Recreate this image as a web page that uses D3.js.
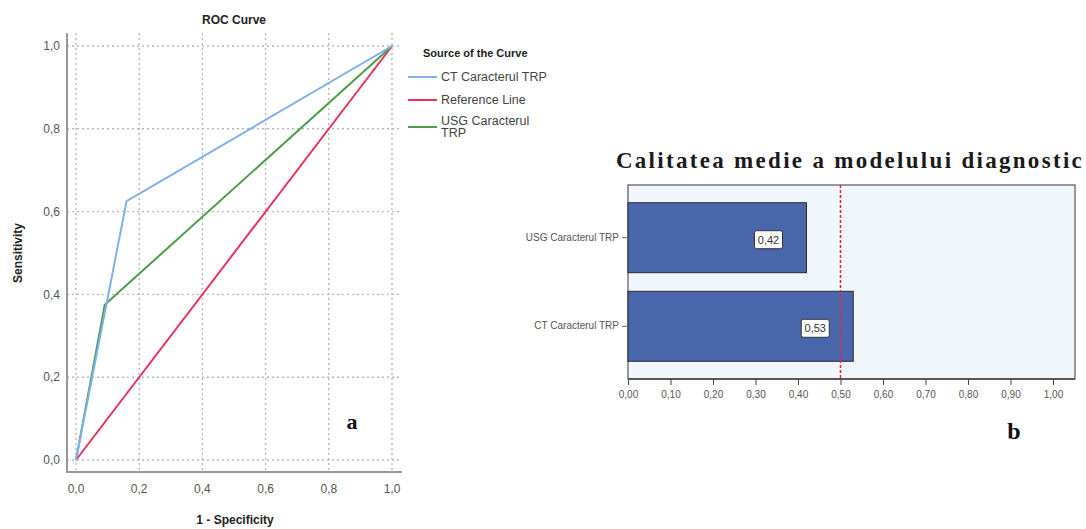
<!DOCTYPE html>
<html>
<head>
<meta charset="utf-8">
<script src="https://cdn.jsdelivr.net/npm/d3@7"></script>
<style>
  body { margin: 0; background: #fff; }
  svg { display: block; font-family: "Liberation Sans", Arial, sans-serif; }
</style>
</head>
<body>
<div id="chart"></div>
<script>
// ROC curves (1 - specificity, sensitivity)
const ctCurve = [[0, 0], [0.16, 0.625], [1, 1]];
const refLine = [[0, 0], [1, 1]];
const usgCurve = [[0, 0], [0.091, 0.375], [1, 1]];
const rocTicks = [0, 0.2, 0.4, 0.6, 0.8, 1.0];
const legendNames = [["CT Caracterul TRP"], ["Reference Line"], ["USG Caracterul", "TRP"]];

// mean diagnostic quality bars
const barCategories = ["USG Caracterul TRP", "CT Caracterul TRP"];
const barValues = [0.42, 0.53];
const barTicks = [0, 0.1, 0.2, 0.3, 0.4, 0.5, 0.6, 0.7, 0.8, 0.9, 1.0];
const refValue = 0.5;

const width = 1086, height = 529;
const comma = (d, n) => d.toFixed(n).replace('.', ',');

const svg = d3.select("#chart").append("svg")
  .attr("width", width)
  .attr("height", height);

// ---------- ROC panel ----------
const x = d3.scaleLinear().domain([0, 1]).range([76, 392]);
const y = d3.scaleLinear().domain([0, 1]).range([460, 46]);
const frame = {left: 67, right: 402, top: 33, bottom: 472};

const roc = svg.append("g");

roc.append("text")
  .attr("x", 234).attr("y", 24)
  .attr("text-anchor", "middle")
  .style("font-size", "12px").style("font-weight", "bold").style("fill", "#222")
  .text("ROC Curve");

// dotted grid
roc.selectAll(".vgrid").data(rocTicks).join("line")
  .attr("x1", d => x(d)).attr("x2", d => x(d))
  .attr("y1", frame.top).attr("y2", frame.bottom)
  .attr("stroke", "#b8b8b8").attr("stroke-width", 1.4).attr("stroke-dasharray", "2,3");
roc.selectAll(".hgrid").data(rocTicks).join("line")
  .attr("y1", d => y(d)).attr("y2", d => y(d))
  .attr("x1", frame.left).attr("x2", frame.right)
  .attr("stroke", "#b8b8b8").attr("stroke-width", 1.4).attr("stroke-dasharray", "2,3");

// axes lines
roc.append("path")
  .attr("d", `M${frame.left},${frame.top}V${frame.bottom}H${frame.right}`)
  .attr("fill", "none").attr("stroke", "#999").attr("stroke-width", 2);

roc.selectAll(".ytl").data(rocTicks).join("text")
  .attr("x", 60).attr("y", d => y(d)).attr("dy", "0.35em")
  .attr("text-anchor", "end")
  .style("font-size", "12px").style("fill", "#555")
  .text(d => comma(d, 1));
roc.selectAll(".xtl").data(rocTicks).join("text")
  .attr("x", d => x(d)).attr("y", 493)
  .attr("text-anchor", "middle")
  .style("font-size", "12px").style("fill", "#555")
  .text(d => comma(d, 1));

roc.append("text")
  .attr("x", 235).attr("y", 524)
  .attr("text-anchor", "middle")
  .style("font-size", "12px").style("font-weight", "bold").style("fill", "#222")
  .text("1 - Specificity");
roc.append("text")
  .attr("transform", "translate(22,253) rotate(-90)")
  .attr("text-anchor", "middle")
  .style("font-size", "12px").style("font-weight", "bold").style("fill", "#222")
  .text("Sensitivity");

const line = d3.line().x(d => x(d[0])).y(d => y(d[1]));
const rocColors = ["#7fb0ee", "#e8335c", "#4b9c4b"];
const curves = [ctCurve, refLine, usgCurve];
[1, 2, 0].forEach(i => {
  roc.append("path").datum(curves[i])
    .attr("d", line)
    .attr("fill", "none")
    .attr("stroke", rocColors[i])
    .attr("stroke-width", 2);
});

roc.append("text")
  .attr("x", 352).attr("y", 429)
  .attr("text-anchor", "middle")
  .style("font-family", "'Liberation Serif', serif")
  .style("font-size", "22px").style("font-weight", "bold").style("fill", "#111")
  .text("a");

// legend
const legend = svg.append("g");
legend.append("text")
  .attr("x", 423).attr("y", 57)
  .style("font-size", "11px").style("font-weight", "bold").style("fill", "#222")
  .text("Source of the Curve");
const legendY = [77, 100, 127];
legendNames.forEach((lines, i) => {
  legend.append("line")
    .attr("x1", 408).attr("x2", 437)
    .attr("y1", legendY[i]).attr("y2", legendY[i])
    .attr("stroke", rocColors[i]).attr("stroke-width", 2);
  const t = legend.append("text")
    .attr("y", legendY[i] - (lines.length - 1) * 6)
    .style("font-size", "12.5px").style("fill", "#444");
  lines.forEach((s, k) => {
    t.append("tspan").attr("x", 441)
      .attr("dy", k === 0 ? "0.35em" : "0.95em")
      .text(s);
  });
});

// ---------- Bar panel ----------
const bx = d3.scaleLinear().domain([0, 1]).range([628, 1053]);
const plot = {left: 628, right: 1075, top: 185, bottom: 379};
const by = d3.scaleBand().domain(barCategories)
  .range([plot.top, plot.bottom])
  .paddingInner(0.21).paddingOuter(0.2);

const bars = svg.append("g");

bars.append("text")
  .attr("x", 850).attr("y", 168)
  .attr("text-anchor", "middle")
  .style("font-family", "'Liberation Serif', 'Times New Roman', serif")
  .style("font-size", "23px").style("font-weight", "bold")
  .style("letter-spacing", "2.3px").style("fill", "#1a1a1a")
  .text("Calitatea medie a modelului diagnostic");

bars.append("rect")
  .attr("x", plot.left).attr("y", plot.top)
  .attr("width", plot.right - plot.left).attr("height", plot.bottom - plot.top)
  .attr("fill", "#f0f6fb").attr("stroke", "#555").attr("stroke-width", 1.2);

bars.selectAll(".bar").data(barValues).join("rect")
  .attr("x", bx(0))
  .attr("y", (d, i) => by(barCategories[i]))
  .attr("width", d => bx(d) - bx(0))
  .attr("height", by.bandwidth())
  .attr("fill", "#4a67ad").attr("stroke", "#2b2b2b").attr("stroke-width", 1);

bars.append("line")
  .attr("x1", bx(refValue)).attr("x2", bx(refValue))
  .attr("y1", plot.top).attr("y2", plot.bottom)
  .attr("stroke", "#e8262b").attr("stroke-width", 1.5).attr("stroke-dasharray", "3,2");

// value labels
barValues.forEach((v, i) => {
  const cx = bx(v) - 38, cy = by(barCategories[i]) + by.bandwidth() / 2 + 2;
  bars.append("rect")
    .attr("x", cx - 14).attr("y", cy - 9).attr("width", 28).attr("height", 18)
    .attr("rx", 2)
    .attr("fill", "#fff").attr("stroke", "#333").attr("stroke-width", 1);
  bars.append("text")
    .attr("x", cx).attr("y", cy).attr("dy", "0.35em")
    .attr("text-anchor", "middle")
    .style("font-size", "11px").style("fill", "#333")
    .text(comma(v, 2));
});

// category axis
const yAxis = bars.append("g")
  .attr("transform", `translate(${plot.left},0)`)
  .call(d3.axisLeft(by).tickSize(6).tickPadding(3));
yAxis.select(".domain").remove();
yAxis.selectAll("line").attr("stroke", "#666");
yAxis.selectAll("text").style("font-size", "10px").style("fill", "#555")
  .style("font-family", "'Liberation Sans', Arial, sans-serif");

// value axis
const xAxis = bars.append("g")
  .attr("transform", `translate(0,${plot.bottom})`)
  .call(d3.axisBottom(bx).tickValues(barTicks).tickSize(6).tickPadding(6)
    .tickFormat(d => comma(d, 2)));
xAxis.select(".domain").attr("stroke", "#444").attr("stroke-width", 1.5)
  .attr("d", `M${plot.left},0H${plot.right}`);
xAxis.selectAll("line").attr("stroke", "#444");
xAxis.selectAll("text").style("font-size", "10px").style("fill", "#555")
  .style("font-family", "'Liberation Sans', Arial, sans-serif");

bars.append("text")
  .attr("x", 1014).attr("y", 439)
  .attr("text-anchor", "middle")
  .style("font-family", "'Liberation Serif', serif")
  .style("font-size", "24px").style("font-weight", "bold").style("fill", "#111")
  .text("b");
</script>
</body>
</html>
